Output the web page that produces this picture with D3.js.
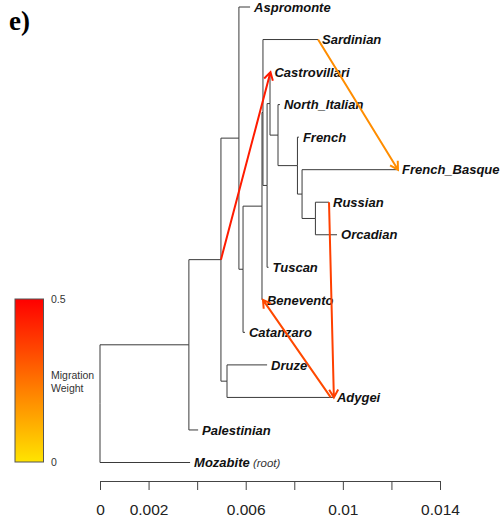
<!DOCTYPE html>
<html>
<head>
<meta charset="utf-8">
<script src="https://cdn.jsdelivr.net/npm/d3@7"></script>
<style>
  body { margin: 0; background: #fff; }
  svg { display: block; }
</style>
</head>
<body>
<div id="chart"></div>
<script>
// tips, top to bottom, with their drift (x) value
const tips = ["Aspromonte", "Sardinian", "Castrovillari", "North_Italian", "French", "French_Basque",
    "Russian", "Orcadian", "Tuscan", "Benevento", "Catanzaro", "Druze", "Adygei", "Palestinian", "Mozabite"];
const tipDrift = [0.00618, 0.00898, 0.00702, 0.00741, 0.00819, 0.01227,
    0.00943, 0.00976, 0.00694, 0.00671, 0.00597, 0.00688, 0.00959, 0.00404, 0.00371];

// internal nodes
const nodeIds = ["root", "A", "B", "C", "D", "E", "F", "X", "Y", "Z", "N1", "N2", "N3", "N4"];
const nodeDrift = [0, 0.00366, 0.00498, 0.00572, 0.00523, 0.00589, 0.00667, 0.00671, 0.00688, 0.0070, 0.00733, 0.00813, 0.00832, 0.00887];
const nodeKids = [
    ["A", "Mozabite"], ["B", "Palestinian"], ["C", "D"], ["Aspromonte", "E"], ["Druze", "Adygei"],
    ["F", "Catanzaro"], ["X", "Benevento"], ["Sardinian", "Y"], ["Z", "Tuscan"], ["Castrovillari", "N1"],
    ["North_Italian", "N2"], ["French", "N3"], ["French_Basque", "N4"], ["Russian", "Orcadian"]
];

// migration edges
const migFrom = ["B", "Sardinian", "Russian", "Adygei"];
const migFromDrift = [0.00498, 0.00898, 0.00943, 0.00950];
const migTo = ["Castrovillari", "French_Basque", "Adygei", "Benevento"];
const migToDrift = [0.00702, 0.01227, 0.00963, 0.00671];
const migWeight = [0.44, 0.19, 0.36, 0.34];

const axisTicks = [0, 0.002, 0.004, 0.006, 0.008, 0.010, 0.012, 0.014];
const axisLabels = [0, 0.002, 0.006, 0.01, 0.014];

const width = 501, height = 523;
const svg = d3.select("#chart").append("svg")
    .attr("width", width).attr("height", height);

const x = d3.scaleLinear().domain([0, 0.014]).range([100, 440]);
const yTip = d3.scaleLinear().domain([0, tips.length - 1]).range([7, 462.5]);

// build node lookup
const nodes = {};
tips.forEach((t, i) => { nodes[t] = { id: t, drift: tipDrift[i], y: yTip(i), kids: [] }; });
nodeIds.forEach((n, i) => { nodes[n] = { id: n, drift: nodeDrift[i], kids: nodeKids[i] }; });

function setY(id) {
    const n = nodes[id];
    if (n.y === undefined) n.y = d3.mean(n.kids, k => setY(k));
    return n.y;
}
setY("root");

// heat colours as TreeMix uses: weight 0 -> yellow, 0.5 -> red
function heat(w) {
    const idx = Math.floor(w * 200);
    const hue = (100 - idx) / 112 * 60;
    return d3.hsl(hue, 1, 0.5).toString();
}

// tree edges
const treeG = svg.append("g")
    .attr("fill", "none").attr("stroke", "#3a3a3a").attr("stroke-width", 1);
nodeIds.forEach(id => {
    const p = nodes[id];
    p.kids.forEach(k => {
        const c = nodes[k];
        treeG.append("path")
            .attr("d", `M${x(p.drift)},${p.y}V${c.y}H${x(c.drift)}`);
    });
});

// tip labels
const labG = svg.append("g")
    .attr("font-family", "Liberation Sans, Arial, sans-serif")
    .attr("font-size", 13).attr("font-weight", "bold").attr("font-style", "italic")
    .attr("fill", "#111");
tips.forEach(t => {
    const n = nodes[t];
    const txt = labG.append("text")
        .attr("x", x(n.drift) + 4).attr("y", n.y).attr("dy", "0.36em")
        .text(t);
    if (t === "Mozabite") {
        txt.append("tspan").attr("font-weight", "normal").attr("font-size", 11.5)
            .attr("fill", "#333").text(" (root)");
    }
});

// migration arrows
const migG = svg.append("g").attr("fill", "none").attr("stroke-width", 2);
migFrom.forEach((f, i) => {
    const x1 = x(migFromDrift[i]), y1 = nodes[f].y;
    const x2 = x(migToDrift[i]), y2 = nodes[migTo[i]].y;
    const col = heat(migWeight[i]);
    const ang = Math.atan2(y2 - y1, x2 - x1);
    const len = 9, spread = Math.PI / 6;
    const h1 = [x2 - len * Math.cos(ang - spread), y2 - len * Math.sin(ang - spread)];
    const h2 = [x2 - len * Math.cos(ang + spread), y2 - len * Math.sin(ang + spread)];
    migG.append("path").attr("stroke", col)
        .attr("d", `M${x1},${y1}L${x2},${y2}M${h1[0]},${h1[1]}L${x2},${y2}L${h2[0]},${h2[1]}`);
});

// x axis
const axis = d3.axisBottom(x)
    .tickValues(axisTicks)
    .tickSize(9)
    .tickPadding(14)
    .tickFormat(d => axisLabels.some(v => Math.abs(v - d) < 1e-9) ? d3.format("~g")(d) : "");
const axG = svg.append("g")
    .attr("transform", "translate(0,481)")
    .call(axis);
axG.select(".domain").attr("stroke", "#444");
axG.selectAll(".tick line").attr("stroke", "#444");
axG.selectAll(".tick text")
    .attr("font-family", "Liberation Sans, Arial, sans-serif")
    .attr("font-size", 15.5).attr("fill", "#222");

// legend
const defs = svg.append("defs");
const grad = defs.append("linearGradient").attr("id", "heat")
    .attr("x1", 0).attr("y1", 1).attr("x2", 0).attr("y2", 0);
d3.range(0, 11).forEach(i => {
    const w = i / 20;
    grad.append("stop").attr("offset", i / 10).attr("stop-color", heat(w));
});
const legY = d3.scaleLinear().domain([0, 0.5]).range([462, 299]);
svg.append("rect")
    .attr("x", 15).attr("y", legY(0.5))
    .attr("width", 28.5).attr("height", legY(0) - legY(0.5))
    .attr("fill", "url(#heat)").attr("stroke", "#555").attr("stroke-width", 1);
const legText = svg.append("g")
    .attr("font-family", "Liberation Sans, Arial, sans-serif")
    .attr("font-size", 10.5).attr("fill", "#333");
legText.append("text").attr("x", 51).attr("y", legY(0.5)).attr("dy", "0.36em").text("0.5");
legText.append("text").attr("x", 51).attr("y", legY(0)).attr("dy", "0.36em").text("0");
legText.append("text").attr("x", 51).attr("y", 375).attr("dy", "0.36em").text("Migration");
legText.append("text").attr("x", 51).attr("y", 388.5).attr("dy", "0.36em").text("Weight");

// panel letter
svg.append("text")
    .attr("x", 9).attr("y", 30)
    .attr("font-family", "Liberation Serif, Times New Roman, serif")
    .attr("font-size", 27).attr("font-weight", "bold")
    .text("e)");
</script>
</body>
</html>
